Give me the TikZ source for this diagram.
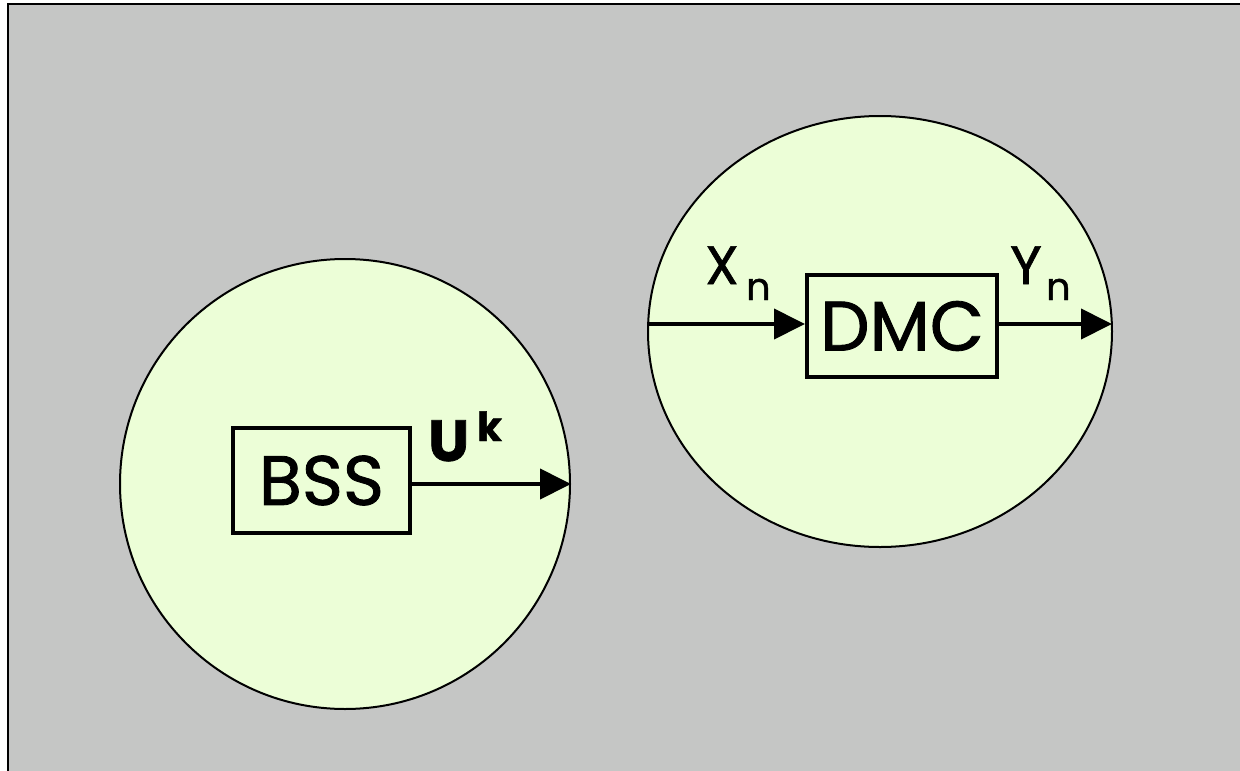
\documentclass[tikz,border=0pt]{standalone}
\usepackage{fontspec}
\setmainfont{Poppins}[FakeBold=1.2]
\usetikzlibrary{shapes.geometric,arrows.meta}
\definecolor{canvas}{RGB}{197,198,197}
\definecolor{blobfill}{RGB}{236,254,215}
\tikzset{
  blob/.style={draw=black, line width=2pt, fill=blobfill, inner sep=0pt},
  box/.style={draw=black, line width=4pt, fill=blobfill, inner sep=0pt},
  arr/.style={line width=4pt, -{Triangle[length=31pt,width=30pt]}},
  boxtext/.style={font=\fontsize{70}{70}\selectfont},
  sym/.style={inner sep=0pt, font=\fontsize{54}{54}\selectfont},
  idx/.style={inner sep=0pt, font=\fontsize{38}{38}\selectfont}
}
\begin{document}
\begin{tikzpicture}[x=1pt,y=-1pt]
  \useasboundingbox (0,0) rectangle (1240,771);
  \clip (0,0) rectangle (1240,771);
  % frame and background
  \fill[white] (0,0) rectangle (1240,771);
  \draw[line width=2.5pt, fill=canvas] (8,4) rectangle (1260,790);

  % the two regions
  \node[blob, circle, minimum size=450pt] (c1) at (345,484) {};
  \node[blob, ellipse, minimum width=464pt, minimum height=431pt] (c2) at (880,331.5) {};

  % source block
  \node[box, boxtext, minimum width=177pt, minimum height=105pt] (bss) at (321.5,480.5) {BSS};
  \draw[arr] (c1.east -| bss.east) -- (c1.east);
  \node[inner sep=0pt, anchor=base west, font=\bfseries\fontsize{58}{58}\selectfont] (u) at (428,461) {U};
  \node[inner sep=0pt, anchor=base west, font=\bfseries\fontsize{40}{40}\selectfont] (k) at (477,441) {k};

  % channel block
  \node[box, boxtext, minimum width=190pt, minimum height=102pt] (dmc) at (902,326) {DMC};
  \coordinate (xin) at (648,324);
  \coordinate (yout) at (1112,324);
  \draw[arr] (xin) -- (dmc.west |- xin);
  \draw[arr] (dmc.east |- yout) -- (yout);
  \node[sym, anchor=base west] (x) at (705,284) {X};
  \node[idx, anchor=base west] (xn) at (746,300) {n};
  \node[sym, anchor=base west] (y) at (1010,284) {Y};
  \node[idx, anchor=base west] (yn) at (1046,300) {n};
\end{tikzpicture}
\end{document}
